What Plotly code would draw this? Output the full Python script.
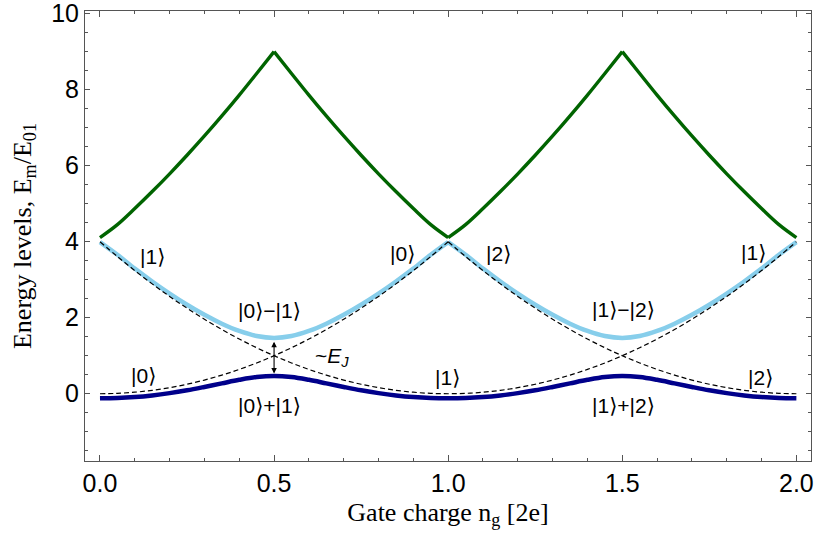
import plotly.graph_objects as go

# ---- data ----
ng = [0.00, 0.05, 0.10, 0.15, 0.20, 0.25, 0.30, 0.35, 0.40, 0.45, 0.50,
      0.55, 0.60, 0.65, 0.70, 0.75, 0.80, 0.85, 0.90, 0.95, 1.00,
      1.05, 1.10, 1.15, 1.20, 1.25, 1.30, 1.35, 1.40, 1.45, 1.50,
      1.55, 1.60, 1.65, 1.70, 1.75, 1.80, 1.85, 1.90, 1.95, 2.00]

ground = [-0.121, -0.114, -0.088, -0.044, 0.016, 0.091, 0.179, 0.273, 0.366, 0.440, 0.469,
          0.440, 0.366, 0.273, 0.179, 0.091, 0.016, -0.044, -0.088, -0.114, -0.121,
          -0.114, -0.088, -0.044, 0.016, 0.091, 0.179, 0.273, 0.366, 0.440, 0.469,
          0.440, 0.366, 0.273, 0.179, 0.091, 0.016, -0.044, -0.088, -0.114, -0.121]

first = [3.99, 3.656, 3.293, 2.953, 2.635, 2.342, 2.077, 1.843, 1.651, 1.518, 1.469,
         1.518, 1.651, 1.843, 2.077, 2.342, 2.635, 2.953, 3.293, 3.656, 3.99,
         3.656, 3.293, 2.953, 2.635, 2.342, 2.077, 1.843, 1.651, 1.518, 1.469,
         1.518, 1.651, 1.843, 2.077, 2.342, 2.635, 2.953, 3.293, 3.656, 3.99]

second = [4.11, 4.45, 4.873, 5.319, 5.786, 6.274, 6.782, 7.31, 7.858, 8.427, 9.0,
          8.427, 7.858, 7.31, 6.782, 6.274, 5.786, 5.319, 4.873, 4.45, 4.11,
          4.45, 4.873, 5.319, 5.786, 6.274, 6.782, 7.31, 7.858, 8.427, 9.0,
          8.427, 7.858, 7.31, 6.782, 6.274, 5.786, 5.319, 4.873, 4.45, 4.11]

# charge-state parabolas (dashed)
charge0_x = ng[0:21]
charge0 = [0.0, 0.01, 0.04, 0.09, 0.16, 0.25, 0.36, 0.49, 0.64, 0.81, 1.0,
           1.21, 1.44, 1.69, 1.96, 2.25, 2.56, 2.89, 3.24, 3.61, 4.0]
charge1_x = ng
charge1 = [4.0, 3.61, 3.24, 2.89, 2.56, 2.25, 1.96, 1.69, 1.44, 1.21, 1.0,
           0.81, 0.64, 0.49, 0.36, 0.25, 0.16, 0.09, 0.04, 0.01, 0.0,
           0.01, 0.04, 0.09, 0.16, 0.25, 0.36, 0.49, 0.64, 0.81, 1.0,
           1.21, 1.44, 1.69, 1.96, 2.25, 2.56, 2.89, 3.24, 3.61, 4.0]
charge2_x = ng[20:41]
charge2 = [4.0, 3.61, 3.24, 2.89, 2.56, 2.25, 1.96, 1.69, 1.44, 1.21, 1.0,
           0.81, 0.64, 0.49, 0.36, 0.25, 0.16, 0.09, 0.04, 0.01, 0.0]

labels = ["|1⟩", "|0⟩−|1⟩", "|0⟩", "|0⟩", "|0⟩+|1⟩", "|1⟩",
          "|2⟩", "|1⟩−|2⟩", "|1⟩", "|2⟩", "|1⟩+|2⟩"]
label_x = [0.152, 0.487, 0.868, 0.124, 0.487, 0.997,
           1.144, 1.503, 1.876, 1.897, 1.503]
label_y = [3.61, 2.19, 3.69, 0.48, -0.31, 0.43,
           3.69, 2.22, 3.71, 0.43, -0.31]

x_ticks = [0.0, 0.5, 1.0, 1.5, 2.0]
x_ticklabels = ["0.0", "0.5", "1.0", "1.5", "2.0"]
y_ticks = [0, 2, 4, 6, 8, 10]

NAVY = "#00008b"
SKY = "#87ceeb"
GREEN = "#006400"
LABEL_FONT = dict(family="Liberation Sans, DejaVu Sans, Arial", size=21, color="black")

fig = go.Figure()

# solid energy levels
fig.add_trace(go.Scatter(x=ng, y=ground, mode="lines",
                         line=dict(color=NAVY, width=4.5, shape="spline"),
                         hoverinfo="skip"))
for a, b in [(0, 21), (20, 41)]:
    fig.add_trace(go.Scatter(x=ng[a:b], y=first[a:b], mode="lines",
                             line=dict(color=SKY, width=4.5, shape="spline"),
                             hoverinfo="skip"))
for a, b in [(0, 11), (10, 21), (20, 31), (30, 41)]:
    fig.add_trace(go.Scatter(x=ng[a:b], y=second[a:b], mode="lines",
                             line=dict(color=GREEN, width=3.4, shape="spline"),
                             hoverinfo="skip"))

# dashed charge parabolas
for xs, ys in [(charge0_x, charge0), (charge1_x, charge1), (charge2_x, charge2)]:
    fig.add_trace(go.Scatter(x=xs, y=ys, mode="lines",
                             line=dict(color="black", width=1.2, dash="5px,3px", shape="spline"),
                             hoverinfo="skip"))

annos = []
for t, x, y in zip(labels, label_x, label_y):
    annos.append(dict(x=x, y=y, text=t, showarrow=False, xref="x", yref="y",
                      font=LABEL_FONT))

# ~E_J label and double-headed arrow
annos.append(dict(x=0.667, y=0.96, text="~<i>E<sub>J</sub></i>", showarrow=False,
                  xref="x", yref="y", font=LABEL_FONT))
annos.append(dict(x=0.5, y=0.53, ax=0.5, ay=1.41, xref="x", yref="y", axref="x", ayref="y",
                  text="", showarrow=True, arrowhead=2, startarrowhead=2, arrowside="end+start",
                  arrowsize=1, startarrowsize=1, arrowwidth=1.1, arrowcolor="black"))

axis_common = dict(
    showline=True, linecolor="#555555", linewidth=1, mirror="allticks",
    ticks="inside", tickcolor="#555555", tickwidth=1, automargin=False,
    showgrid=False, zeroline=False, ticklabeloverflow="allow",
    tickfont=dict(family="Liberation Sans, Arial", size=25, color="black"),
)

fig.update_layout(
    width=818, height=540,
    margin=dict(l=85, r=7, t=11, b=79),
    paper_bgcolor="white", plot_bgcolor="white",
    showlegend=False,
    annotations=annos,
    xaxis=dict(
        range=[-0.043, 2.042], tickvals=x_ticks, ticktext=x_ticklabels, ticklen=6,
        minor=dict(dtick=0.1, tick0=0, ticks="inside", ticklen=3, tickcolor="#555555"),
        title=dict(text="Gate charge n<sub>g</sub> [2e]", standoff=6,
                   font=dict(family="Liberation Serif, Times New Roman", size=26, color="black")),
        **axis_common),
    yaxis=dict(
        range=[-1.77, 10.07], tickvals=y_ticks, ticklen=5,
        minor=dict(dtick=0.5, tick0=0, ticks="inside", ticklen=3, tickcolor="#555555"),
        title=dict(text="Energy levels, E<sub>m</sub>/E<sub>01</sub>", standoff=12,
                   font=dict(family="Liberation Serif, Times New Roman", size=26, color="black")),
        **axis_common),
)

fig.write_html("out.html")
